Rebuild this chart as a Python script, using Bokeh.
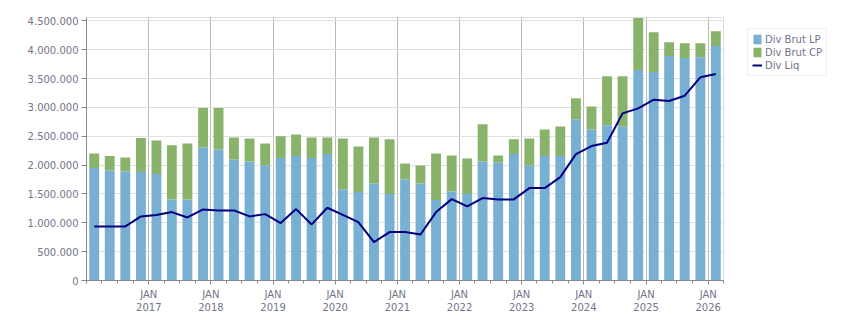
import pandas as pd
from bokeh.plotting import figure
from bokeh.models import (ColumnDataSource, Range1d, FixedTicker, CustomJSTickFormatter,
                          Legend, LegendItem)
from bokeh.embed import file_html
from bokeh.resources import INLINE

quarters = ["2016Q1", "2016Q2", "2016Q3", "2016Q4",
            "2017Q1", "2017Q2", "2017Q3", "2017Q4",
            "2018Q1", "2018Q2", "2018Q3", "2018Q4",
            "2019Q1", "2019Q2", "2019Q3", "2019Q4",
            "2020Q1", "2020Q2", "2020Q3", "2020Q4",
            "2021Q1", "2021Q2", "2021Q3", "2021Q4",
            "2022Q1", "2022Q2", "2022Q3", "2022Q4",
            "2023Q1", "2023Q2", "2023Q3", "2023Q4",
            "2024Q1", "2024Q2", "2024Q3", "2024Q4",
            "2025Q1", "2025Q2", "2025Q3", "2025Q4",
            "2026Q1"]

div_brut_lp = [1949000, 1909000, 1891000, 1880000,
               1845000, 1406000, 1406000, 2308000,
               2273000, 2100000, 2065000, 1995000,
               2123000, 2157000, 2123000, 2192000,
               1579000, 1533000, 1683000, 1498000,
               1753000, 1683000, 1394000, 1544000,
               1498000, 2065000, 2048000, 2192000,
               1995000, 2157000, 2157000, 2794000,
               2620000, 2690000, 2672000, 3650000,
               3615000, 3893000, 3858000, 3870000,
               4066000]

div_brut_cp = [255000, 248000, 243000, 590000,
               584000, 937000, 971000, 682000,
               717000, 381000, 399000, 382000,
               376000, 376000, 358000, 289000,
               885000, 792000, 798000, 949000,
               277000, 312000, 810000, 625000,
               619000, 642000, 121000, 255000,
               469000, 463000, 515000, 364000,
               399000, 850000, 868000, 902000,
               688000, 237000, 254000, 242000,
               255000]

div_liq = [937000, 937000, 937000, 1111000,
           1134000, 1186000, 1093000, 1232000,
           1215000, 1215000, 1111000, 1151000,
           995000, 1238000, 972000, 1261000,
           1139000, 1012000, 665000, 839000,
           839000, 798000, 1186000, 1411000,
           1284000, 1429000, 1406000, 1406000,
           1602000, 1602000, 1793000, 2192000,
           2331000, 2389000, 2898000, 2985000,
           3135000, 3112000, 3204000, 3523000,
           3580000]

y_ticks = [0, 500000, 1000000, 1500000, 2000000, 2500000, 3000000, 3500000, 4000000, 4500000]
y_tick_labels = ["0", "500.000", "1.000.000", "1.500.000", "2.000.000", "2.500.000",
                 "3.000.000", "3.500.000", "4.000.000", "4.500.000"]
tick_years = list(range(2017, 2027))

periods = pd.PeriodIndex(quarters, freq="Q")
starts = periods.start_time
ends = periods.end_time
centers = starts + (ends - starts) / 2

src = ColumnDataSource(dict(x=centers, lp=div_brut_lp, cp=div_brut_cp, liq=div_liq))

LABEL_COLOR = "#73738c"
FONT = "DejaVu Sans"

x_start = pd.Timestamp("2016-01-01")
x_end = pd.Timestamp("2026-04-01")

p = figure(frame_width=637, frame_height=263, x_axis_type="datetime",
           output_backend="svg", toolbar_location=None,
           min_border_left=86, min_border_right=0,
           min_border_top=17, min_border_bottom=33,
           x_range=Range1d(x_start, x_end), y_range=Range1d(0, 4560000))

bar_w = 58 * 24 * 3600 * 1000
r_bars = p.vbar_stack(["lp", "cp"], x="x", width=bar_w, source=src,
                      color=["#78b0d3", "#89b26b"], line_color=None)
r_line = p.line(x="x", y="liq", source=src, line_color="#000080", line_width=2)

# axes
major_x = [pd.Timestamp(f"{y}-01-01").value // 10**6 for y in tick_years]
minor_x = [pd.Timestamp(s).value // 10**6 for s in pd.period_range("2016Q1", "2026Q2", freq="Q").start_time]
p.xaxis.ticker = FixedTicker(ticks=major_x, minor_ticks=minor_x)
p.xaxis.formatter = CustomJSTickFormatter(code="""
    const d = new Date(tick);
    return "JAN\\n" + d.getUTCFullYear();
""")
p.yaxis.ticker = FixedTicker(ticks=y_ticks)
p.yaxis.major_label_overrides = {t: l for t, l in zip(y_ticks, y_tick_labels)}

for ax in (p.xaxis[0], p.yaxis[0]):
    ax.axis_line_color = "#888888"
    ax.major_tick_line_color = "#888888"
    ax.minor_tick_line_color = "#888888"
    ax.major_tick_in = 0
    ax.minor_tick_in = 0
    ax.major_label_text_color = LABEL_COLOR
    ax.major_label_text_font = FONT
    ax.major_label_text_font_size = "10px"
p.xaxis.major_tick_out = 4
p.xaxis.minor_tick_out = 3
p.xaxis.major_label_standoff = 4
p.yaxis.major_tick_out = 5
p.yaxis.minor_tick_line_color = None
p.yaxis.major_label_standoff = 3

p.xgrid.ticker = FixedTicker(ticks=major_x)
p.xgrid.grid_line_color = "#b8b8b8"
p.ygrid.grid_line_color = "#e0e0e0"
p.outline_line_color = "#dddddd"
p.background_fill_color = "white"
p.border_fill_color = "white"

legend = Legend(items=[LegendItem(label="Div Brut LP", renderers=[r_bars[0]]),
                       LegendItem(label="Div Brut CP", renderers=[r_bars[1]]),
                       LegendItem(label="Div Liq", renderers=[r_line])],
                location=(24, 204))
legend.border_line_color = "#dddddd"
legend.background_fill_alpha = 1
legend.label_text_font = FONT
legend.label_text_font_size = "10px"
legend.label_text_color = LABEL_COLOR
legend.glyph_width = 10
legend.glyph_height = 12
legend.label_height = 12
legend.label_standoff = 3
legend.spacing = 1
legend.padding = 4
legend.margin = 0
p.add_layout(legend, "right")

open("out.html", "w").write(file_html(p, INLINE))
